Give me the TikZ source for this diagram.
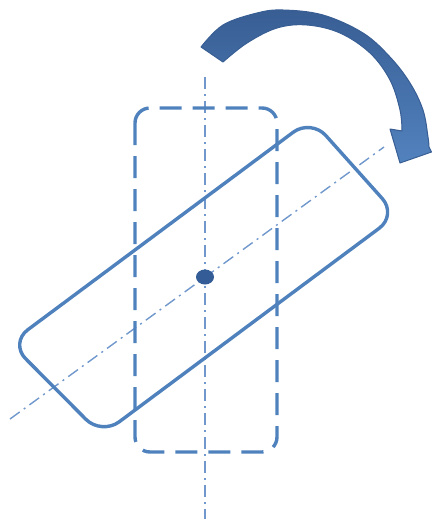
\documentclass[tikz,border=0pt]{standalone}
\usepackage{xcolor}
\usepackage{tikz}
\usetikzlibrary{calc}
\definecolor{frameblue}{RGB}{79, 129, 189}
\definecolor{axisblue}{RGB}{112, 152, 204}
\definecolor{arrowdark}{RGB}{56, 94, 148}
\definecolor{arrowlight}{RGB}{82, 130, 190}
\definecolor{pivotblue}{RGB}{52, 92, 150}

\begin{document}
\begin{tikzpicture}[
    x=1pt, y=-1pt,
    axis/.style={draw=axisblue, line width=1.4pt, dash pattern=on 12pt off 5pt on 2pt off 5pt},
    oldframe/.style={draw=frameblue, line width=3.4pt, rounded corners=15pt, dash pattern=on 22pt off 11pt},
    newframe/.style={draw=frameblue, line width=3.4pt, rounded corners=22pt},
    pivot/.style={fill=pivotblue, draw=none},
    turn/.style={draw=arrowdark, line width=1pt, line join=round, top color=arrowdark, bottom color=arrowlight}
]
\useasboundingbox (0,0) rectangle (432,519);

% Points
\coordinate (c) at (205,277);
\coordinate (vtop) at (205,77);
\coordinate (vbot) at (205,519);
\coordinate (dlow) at (10,419);
\coordinate (dhigh) at (384,147);

% Axes
\draw [axis] (vtop) -- (vbot);
\draw [axis] (dlow) -- (dhigh);

% Frames
\draw [oldframe] (135,108) rectangle (277,452);
\draw [newframe] (311,119) -- (397,215) -- (101.5,435) -- (10,343) -- cycle;

% Pivot
\fill [pivot] (c) ellipse (9 and 7.5);

% Rotation arrow
\draw [turn] (201,47)
    -- plot[smooth, tension=0.6] coordinates {(201,47) (223,25) (257,13) (283,10) (323,15) (363,33) (390,57) (410,83) (423,110) (428,137) (429,147)}
    -- (431.5,152) -- (400,163) -- (390,129)
    -- plot[smooth, tension=0.6] coordinates {(402,131) (400,110) (390,80) (370,53) (340,33) (307,25) (277,28) (247,43) (223,62)}
    -- cycle;

\end{tikzpicture}
\end{document}
